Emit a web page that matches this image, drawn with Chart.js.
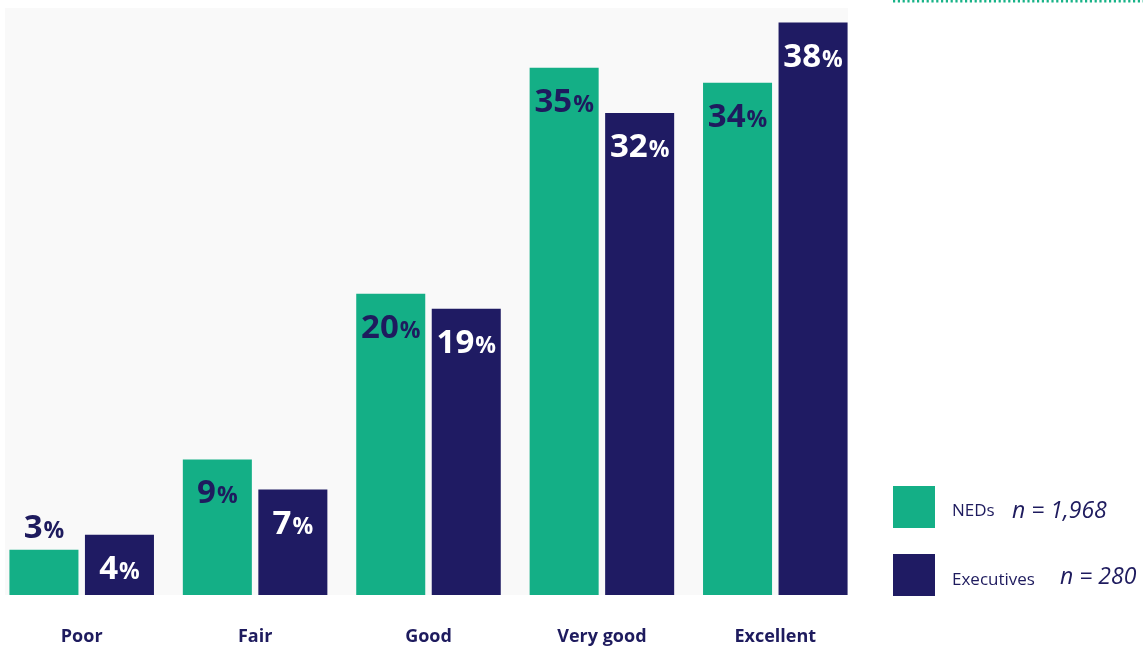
<!DOCTYPE html>
<html>
<head>
<meta charset="utf-8">
<script src="https://cdn.jsdelivr.net/npm/chart.js@4.4.1/dist/chart.umd.min.js"></script>
<style>
  html, body { margin: 0; padding: 0; background: #ffffff; }
  body { width: 1143px; height: 648px; position: relative; overflow: hidden; }
  #chart { position: absolute; left: -5px; top: 0; }
</style>
</head>
<body>
<canvas id="chart" width="1148" height="679"></canvas>
<script>
// Ratings of board performance, share of respondents (%)
const categories = ['Poor', 'Fair', 'Good', 'Very good', 'Excellent'];
const nedValues = [3, 9, 20, 35, 34];
const execValues = [4, 7, 19, 32, 38];
const seriesNames = ['NEDs', 'Executives'];
const sampleSizes = ['n = 1,968', 'n = 280'];

const GREEN = '#14af86';
const NAVY = '#1f1b63';
const INK = '#1e1b5e';
const FONT = '"Open Sans", "Noto Sans", sans-serif';

// faint paper tone behind the plot
const paperPlugin = {
  id: 'paper',
  beforeDraw(chart) {
    const ctx = chart.ctx;
    ctx.save();
    ctx.fillStyle = '#f9f9f9';
    ctx.fillRect(10, 8, 843, chart.chartArea.bottom - 8);
    ctx.restore();
  }
};

// percentage labels on each bar
const valueLabelPlugin = {
  id: 'valueLabels',
  afterDatasetsDraw(chart) {
    const ctx = chart.ctx;
    ctx.save();
    ctx.textBaseline = 'alphabetic';
    chart.data.datasets.forEach((ds, di) => {
      const meta = chart.getDatasetMeta(di);
      meta.data.forEach((bar, i) => {
        const num = String(ds.data[i]);
        const h = bar.base - bar.y;
        const inside = h >= 50;
        const color = (di === 0 || !inside) ? INK : '#ffffff';
        const baseline = inside ? bar.y + 44 : bar.y - 12;
        ctx.font = '700 33px ' + FONT;
        const wNum = ctx.measureText(num).width;
        ctx.font = '700 23px ' + FONT;
        const wPct = ctx.measureText('%').width;
        const x0 = bar.x - (wNum + wPct + 1) / 2;
        ctx.fillStyle = color;
        ctx.textAlign = 'left';
        ctx.font = '700 33px ' + FONT;
        ctx.fillText(num, x0, baseline);
        ctx.font = '700 23px ' + FONT;
        ctx.fillText('%', x0 + wNum + 1, baseline);
      });
    });
    ctx.restore();
  }
};

// legend with sample sizes, plus the dotted rule at the top right
const sideLegendPlugin = {
  id: 'sideLegend',
  afterDraw(chart) {
    const ctx = chart.ctx;
    ctx.save();
    // dotted rule
    ctx.strokeStyle = '#19b388';
    ctx.lineWidth = 2.4;
    ctx.setLineDash([2.2, 2.6]);
    ctx.beginPath();
    ctx.moveTo(898, 1.2);
    ctx.lineTo(1148, 1.2);
    ctx.stroke();
    ctx.setLineDash([]);

    const rows = [
      { y: 486, base: 516, nBase: 518, nx: 1017 },
      { y: 554, base: 585, nBase: 584, nx: 1065 }
    ];
    chart.data.datasets.forEach((ds, di) => {
      const r = rows[di];
      ctx.fillStyle = ds.backgroundColor;
      ctx.fillRect(898, r.y, 42, 42);
      ctx.fillStyle = INK;
      ctx.textAlign = 'left';
      ctx.textBaseline = 'alphabetic';
      ctx.font = '500 17px ' + FONT;
      ctx.fillText(seriesNames[di], 957, r.base);
      ctx.font = 'italic 400 23px ' + FONT;
      ctx.fillText(sampleSizes[di], r.nx, r.nBase);
    });
    ctx.restore();
  }
};

new Chart(document.getElementById('chart'), {
  type: 'bar',
  data: {
    labels: categories,
    datasets: [
      { label: seriesNames[0], data: nedValues, backgroundColor: GREEN },
      { label: seriesNames[1], data: execValues, backgroundColor: NAVY }
    ]
  },
  options: {
    responsive: false,
    animation: false,
    devicePixelRatio: 1,
    layout: { padding: { left: 0, top: 0, right: 281, bottom: 0 } },
    datasets: {
      bar: { categoryPercentage: 0.871, barPercentage: 0.914, borderWidth: 0 }
    },
    plugins: {
      legend: { display: false },
      tooltip: { enabled: false }
    },
    scales: {
      x: {
        grid: { display: false, drawTicks: false, tickLength: 0 },
        border: { display: false },
        ticks: {
          color: INK,
          padding: 31.2,
          maxRotation: 0,
          font: { family: FONT, size: 18, weight: '700' }
        }
      },
      y: {
        display: false,
        min: 0,
        max: 39.5
      }
    }
  },
  plugins: [paperPlugin, valueLabelPlugin, sideLegendPlugin]
});
</script>
</body>
</html>
